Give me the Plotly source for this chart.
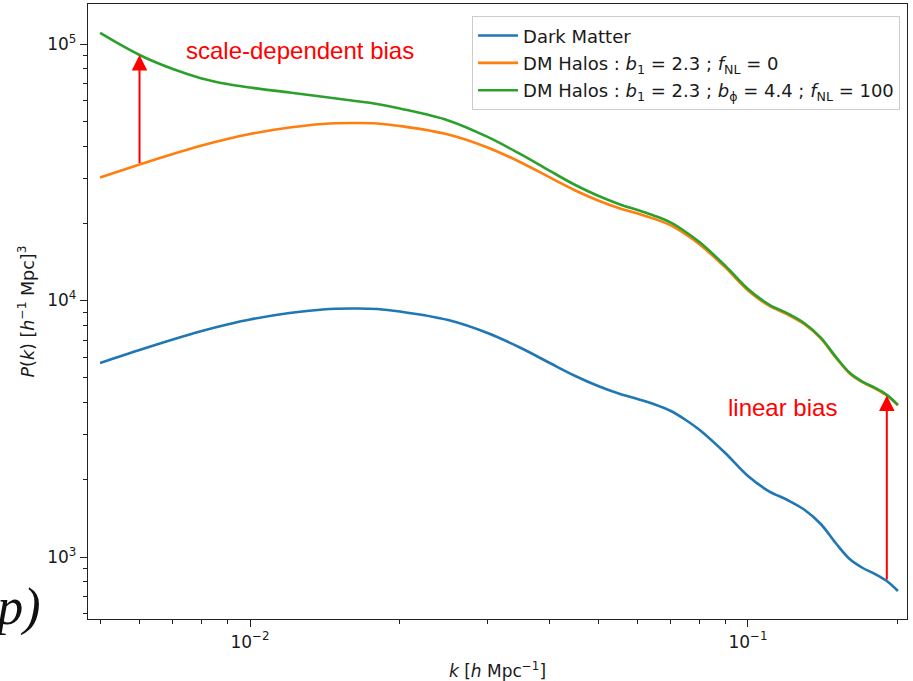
import math
import plotly.graph_objects as go

# Wavenumbers k [h/Mpc]
k = [0.005, 0.006, 0.007, 0.008, 0.009, 0.01, 0.012, 0.014, 0.016, 0.018,
     0.02, 0.025, 0.03, 0.035, 0.04, 0.045, 0.05, 0.055, 0.06, 0.065,
     0.07, 0.075, 0.08, 0.09, 0.1, 0.11, 0.12, 0.13, 0.14, 0.15,
     0.16, 0.17, 0.18, 0.19, 0.2]

# Matter power spectrum
p_dm = [5705, 6412, 7047, 7605, 8060, 8430, 8938, 9224, 9307, 9267,
        9060, 8395, 7470, 6528, 5705, 5078, 4642, 4339, 4130, 3931,
        3708, 3421, 3127, 2544, 2069, 1808, 1668, 1525, 1345, 1134,
        982, 906, 858, 806, 737]

# Halo power spectrum, Gaussian initial conditions (b1 = 2.3)
p_halo_gauss = [30180, 33920, 37280, 40230, 42640, 44590, 47280, 48800, 49230, 49020,
                47930, 44410, 39520, 34530, 30180, 26860, 24560, 22950, 21850, 20790,
                19620, 18100, 16540, 13460, 10950, 9564, 8824, 8067, 7115, 5999,
                5195, 4793, 4539, 4264, 3899]

# Halo power spectrum with local primordial non-Gaussianity (fNL = 100)
p_halo_fnl = [110400, 90600, 79880, 73440, 69840, 67670, 64710, 62310, 60210, 58350,
              56040, 50360, 43430, 37120, 32020, 28200, 25600, 23800, 22530, 21370,
              20110, 18500, 16860, 13670, 11090, 9667, 8908, 8136, 7170, 6040,
              5228, 4821, 4564, 4285, 3917]

names = [
    "Dark Matter",
    "DM Halos : <i>b</i><sub>1</sub> = 2.3 ; <i>f</i><sub>NL</sub> = 0",
    "DM Halos : <i>b</i><sub>1</sub> = 2.3 ; <i>b</i><sub>ϕ</sub> = 4.4 ; <i>f</i><sub>NL</sub> = 100",
]
colors = ["#1f77b4", "#ff7f0e", "#2ca02c"]
series = [p_dm, p_halo_gauss, p_halo_fnl]

x_major = [0.01, 0.1]
x_major_text = ["10<sup>−2</sup>", "10<sup>−1</sup>"]
x_minor = [0.005, 0.006, 0.007, 0.008, 0.009,
           0.02, 0.03, 0.04, 0.05, 0.06, 0.07, 0.08, 0.09, 0.2]
y_major = [1e3, 1e4, 1e5]
y_major_text = ["10<sup>3</sup>", "10<sup>4</sup>", "10<sup>5</sup>"]
y_minor = [600, 700, 800, 900,
           2000, 3000, 4000, 5000, 6000, 7000, 8000, 9000,
           20000, 30000, 40000, 50000, 60000, 70000, 80000, 90000]

fig = go.Figure()
for i, (name, col, ys) in enumerate(zip(names, colors, series)):
    fig.add_trace(go.Scatter(
        x=k, y=ys, mode="lines", name=name, legendgroup=f"g{i}",
        line=dict(color=col, width=2.6, shape="spline", smoothing=1.0),
    ))

FONT = "DejaVu Sans"
TXT = "#1a1a1a"
axis_common = dict(
    type="log", showgrid=False, zeroline=False,
    showline=True, linecolor="#222", linewidth=1.3, mirror=True,
    ticks="outside", ticklen=7, tickwidth=1.3, tickcolor="#222",
    tickfont=dict(family=FONT, size=17, color=TXT),
)

fig.update_xaxes(
    **axis_common,
    range=[-2.3253, -0.6807],
    tickmode="array", tickvals=x_major, ticktext=x_major_text,
    minor=dict(tickmode="array", tickvals=x_minor, ticks="outside",
               ticklen=4, tickwidth=1.1, tickcolor="#222"),
    title=dict(text="<i>k</i> [<i>h</i> Mpc<sup>−1</sup>]",
               font=dict(family=FONT, size=17, color=TXT), standoff=14),
)
fig.update_yaxes(
    **axis_common,
    range=[2.7583, 5.156],
    tickmode="array", tickvals=y_major, ticktext=y_major_text,
    minor=dict(tickmode="array", tickvals=y_minor, ticks="outside",
               ticklen=4, tickwidth=1.1, tickcolor="#222"),
    title=dict(text="<i>P</i>(<i>k</i>) [<i>h</i><sup>−1</sup> Mpc]<sup>3</sup>",
               font=dict(family=FONT, size=17.5, color=TXT), standoff=8),
)

# Arrows: scale-dependent bias (low k) and linear bias (high k)
i_lo = 1   # k = 0.006
i_hi = 33  # k = 0.19
arrow = dict(showarrow=True, arrowhead=2, arrowsize=1.55, arrowwidth=2,
             arrowcolor="red", axref="x", ayref="y", xref="x", yref="y", text="")
fig.add_annotation(x=math.log10(k[i_lo]), y=math.log10(p_halo_fnl[i_lo]),
                   ax=math.log10(k[i_lo]), ay=math.log10(p_halo_gauss[i_lo]), **arrow)
fig.add_annotation(x=math.log10(k[i_hi]), y=math.log10(p_halo_gauss[i_hi]),
                   ax=math.log10(k[i_hi]), ay=math.log10(p_dm[i_hi]), **arrow)

label_font = dict(family="Liberation Sans", size=24, color="red")
fig.add_annotation(text="scale-dependent bias", showarrow=False,
                   xref="paper", yref="paper", x=0.2589, y=0.9252,
                   xanchor="center", yanchor="middle", font=label_font)
fig.add_annotation(text="linear bias", showarrow=False,
                   xref="paper", yref="paper", x=0.8474, y=0.3447,
                   xanchor="center", yanchor="middle", font=label_font)

# Panel letter
fig.add_annotation(text="<i>(p)</i>", showarrow=False,
                   xref="paper", yref="paper", x=-0.055, y=0.02,
                   xanchor="right", yanchor="middle",
                   font=dict(family="Liberation Serif", size=52, color="#111"))

fig.update_layout(
    width=913, height=681,
    margin=dict(l=88, r=6, t=4, b=62, autoexpand=False),
    paper_bgcolor="white", plot_bgcolor="white",
    showlegend=True,
    legend=dict(
        x=0.9915, y=0.98, xanchor="right", yanchor="top",
        bgcolor="rgba(255,255,255,0.85)", bordercolor="#cccccc", borderwidth=1,
        font=dict(family=FONT, size=18, color=TXT),
        tracegroupgap=1, itemwidth=40,
    ),
)

fig.write_html("out.html")
